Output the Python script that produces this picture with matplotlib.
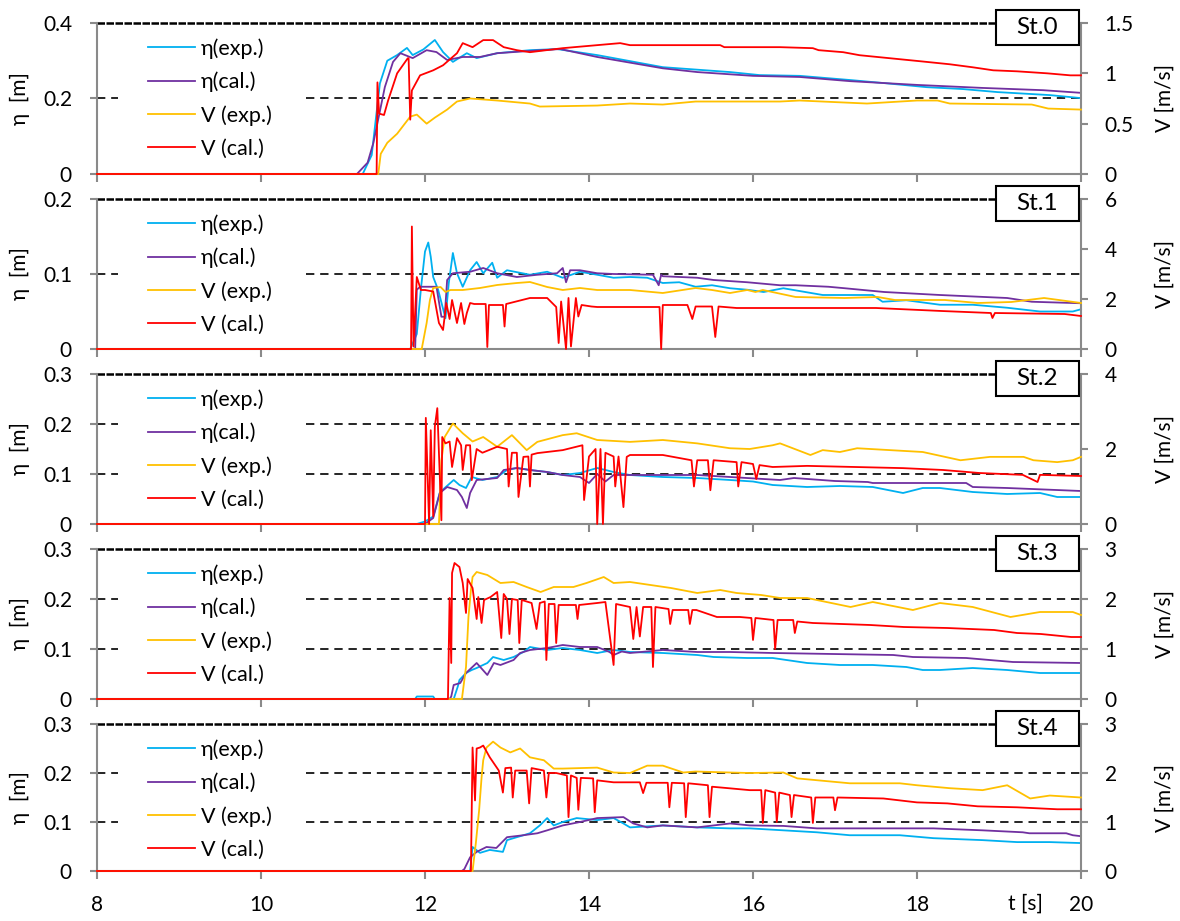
import matplotlib.pyplot as plt
from matplotlib.patches import Rectangle

plt.rcParams['font.family'] = ['Lato', 'DejaVu Sans']

# ---- data: (t [s], value) ----
st0_eta_exp = [(8, 0), (11.24, 0), (11.35, 0.05), (11.45, 0.24), (11.54, 0.30), (11.66, 0.315), (11.78, 0.334),
               (11.85, 0.315), (11.98, 0.33), (12.12, 0.355), (12.22, 0.323), (12.34, 0.297), (12.51, 0.32),
               (12.63, 0.307), (12.88, 0.32), (13.28, 0.328), (13.61, 0.331), (14.1, 0.315), (14.9, 0.283),
               (15.72, 0.27), (16.08, 0.262), (16.57, 0.26), (17.18, 0.249), (17.59, 0.241), (18.12, 0.23),
               (18.56, 0.225), (18.98, 0.217), (19.62, 0.209), (20, 0.201)]
st0_eta_cal = [(8, 0), (11.17, 0), (11.3, 0.03), (11.37, 0.082), (11.51, 0.23), (11.61, 0.297), (11.7, 0.32),
               (11.85, 0.307), (12.02, 0.328), (12.14, 0.323), (12.27, 0.302), (12.46, 0.31), (12.67, 0.31),
               (12.88, 0.32), (13.28, 0.326), (13.65, 0.331), (14.1, 0.31), (14.9, 0.28), (15.32, 0.27),
               (16.0, 0.26), (16.57, 0.257), (17.18, 0.246), (18.0, 0.236), (18.8, 0.228), (19.54, 0.222),
               (20, 0.215)]
st0_v_exp = [(8, 0), (11.43, 0), (11.46, 0.2), (11.54, 0.31), (11.66, 0.4), (11.82, 0.57), (11.9, 0.59),
             (12.02, 0.5), (12.12, 0.56), (12.27, 0.64), (12.39, 0.72), (12.55, 0.75), (12.88, 0.73),
             (13.28, 0.7), (13.4, 0.67), (14.1, 0.68), (14.5, 0.7), (14.9, 0.69), (15.3, 0.72), (16.33, 0.72),
             (16.57, 0.73), (17.39, 0.7), (18.0, 0.73), (18.25, 0.73), (18.4, 0.7), (19.4, 0.69), (19.6, 0.65),
             (20, 0.64)]
st0_v_cal = [(8, 0), (11.41, 0), (11.42, 0.91), (11.44, 0.6), (11.5, 0.586), (11.55, 0.73), (11.66, 1.0),
             (11.79, 1.15), (11.8, 1.15), (11.82, 0.54), (11.84, 0.83), (11.94, 0.98), (12.1, 1.03),
             (12.22, 1.08), (12.39, 1.2), (12.46, 1.3), (12.58, 1.26), (12.71, 1.33), (12.83, 1.33),
             (12.96, 1.26), (13.12, 1.23), (13.28, 1.21), (13.68, 1.25), (14.1, 1.28), (14.38, 1.3),
             (14.5, 1.28), (15.6, 1.28), (15.65, 1.26), (16.33, 1.26), (16.73, 1.25), (16.8, 1.23),
             (17.1, 1.21), (17.3, 1.18), (17.67, 1.15), (18.04, 1.12), (18.4, 1.09), (18.68, 1.06),
             (18.93, 1.03), (19.22, 1.02), (19.59, 1.0), (19.87, 0.98), (20, 0.98)]

st1_eta_exp = [(8, 0), (11.82, 0), (11.9, 0.02), (11.95, 0.08), (12.0, 0.13), (12.04, 0.142), (12.07, 0.123),
               (12.1, 0.096), (12.16, 0.079), (12.25, 0.041), (12.29, 0.088), (12.34, 0.128), (12.39, 0.101),
               (12.46, 0.083), (12.55, 0.105), (12.63, 0.116), (12.71, 0.101), (12.82, 0.115), (12.88, 0.095),
               (13.0, 0.105), (13.28, 0.099), (13.49, 0.103), (13.68, 0.095), (13.89, 0.103), (14.1, 0.099),
               (14.3, 0.095), (14.5, 0.096), (14.71, 0.095), (14.9, 0.088), (15.1, 0.089), (15.3, 0.083),
               (15.5, 0.085), (15.72, 0.081), (15.93, 0.079), (16.13, 0.076), (16.37, 0.081), (16.85, 0.072),
               (17.46, 0.072), (17.58, 0.063), (17.87, 0.065), (18.28, 0.059), (18.68, 0.059), (19.1, 0.055),
               (19.5, 0.05), (19.9, 0.05), (20, 0.053)]
st1_eta_cal = [(8, 0), (11.88, 0), (11.9, 0.079), (11.94, 0.083), (12.0, 0.083), (12.14, 0.083), (12.2, 0.043),
               (12.24, 0.043), (12.27, 0.092), (12.34, 0.101), (12.55, 0.103), (12.71, 0.108), (12.88, 0.101),
               (13.12, 0.096), (13.37, 0.099), (13.61, 0.101), (13.68, 0.108), (13.72, 0.089), (13.77, 0.105),
               (13.89, 0.105), (14.1, 0.101), (14.3, 0.1), (14.78, 0.099), (14.85, 0.085), (14.88, 0.099),
               (14.9, 0.097), (15.32, 0.095), (15.52, 0.092), (15.93, 0.089), (16.33, 0.085), (16.52, 0.085),
               (16.92, 0.083), (17.12, 0.081), (17.6, 0.076), (18.28, 0.072), (19.1, 0.068), (19.4, 0.063),
               (20, 0.061)]
st1_v_exp = [(8, 0), (11.96, 0), (12.02, 1.04), (12.06, 1.96), (12.1, 2.44), (12.19, 2.48), (12.25, 2.28),
             (12.31, 2.36), (12.46, 2.36), (12.67, 2.44), (12.88, 2.56), (13.12, 2.64), (13.28, 2.68),
             (13.49, 2.48), (13.68, 2.36), (13.89, 2.44), (14.1, 2.36), (14.5, 2.36), (14.9, 2.24),
             (15.3, 2.44), (15.5, 2.36), (15.72, 2.24), (15.93, 2.36), (16.03, 2.28), (16.12, 2.36),
             (16.52, 2.08), (17.12, 2.04), (17.52, 2.08), (17.73, 1.96), (18.34, 1.96), (18.74, 1.84),
             (19.15, 1.88), (19.55, 2.04), (20, 1.84)]
st1_v_cal = [(8, 0), (11.83, 0), (11.84, 4.9), (11.86, 0.1), (11.9, 2.88), (11.95, 2.36), (12.0, 2.36),
             (12.1, 2.3), (12.17, 1.04), (12.22, 0.76), (12.26, 1.84), (12.3, 1.2), (12.33, 1.96), (12.39, 1.04),
             (12.44, 1.84), (12.48, 1.0), (12.51, 1.44), (12.55, 1.84), (12.6, 1.8), (12.74, 1.8), (12.76, 0.08),
             (12.78, 1.76), (12.95, 1.76), (12.97, 0.9), (12.99, 1.8), (13.28, 2.04), (13.49, 2.04),
             (13.6, 1.68), (13.63, 0.24), (13.66, 1.9), (13.72, 0.0), (13.75, 2.04), (13.78, 0.1), (13.84, 2.04),
             (13.87, 1.3), (13.91, 1.76), (14.03, 1.7), (14.1, 1.68), (14.86, 1.68), (14.88, 0.0), (14.9, 1.76),
             (15.2, 1.76), (15.26, 1.2), (15.3, 1.7), (15.5, 1.7), (15.54, 0.48), (15.58, 1.7), (15.8, 1.64),
             (17.5, 1.64), (18.3, 1.52), (18.9, 1.44), (18.92, 1.24), (18.95, 1.44), (19.8, 1.4), (20, 1.32)]

st2_eta_exp = [(8, 0), (11.9, 0), (12.0, 0.005), (12.1, 0.015), (12.18, 0.062), (12.24, 0.072), (12.35, 0.088),
               (12.42, 0.078), (12.5, 0.072), (12.57, 0.094), (12.7, 0.088), (12.88, 0.094), (13.0, 0.108),
               (13.12, 0.112), (13.28, 0.108), (13.49, 0.104), (13.68, 0.098), (13.89, 0.102), (14.1, 0.112),
               (14.3, 0.104), (14.5, 0.098), (14.9, 0.094), (15.32, 0.092), (15.72, 0.088), (16.0, 0.085),
               (16.24, 0.078), (16.66, 0.074), (17.06, 0.076), (17.46, 0.074), (17.83, 0.062), (18.07, 0.072),
               (18.28, 0.072), (18.68, 0.064), (19.1, 0.06), (19.5, 0.062), (19.71, 0.054), (20, 0.054)]
st2_eta_cal = [(8, 0), (12.0, 0), (12.1, 0.012), (12.18, 0.062), (12.27, 0.074), (12.39, 0.068), (12.45, 0.054),
               (12.51, 0.032), (12.55, 0.062), (12.63, 0.088), (12.88, 0.092), (12.96, 0.108), (13.12, 0.112),
               (13.28, 0.108), (13.49, 0.104), (13.68, 0.098), (13.89, 0.094), (14.0, 0.082), (14.1, 0.1),
               (14.2, 0.085), (14.3, 0.098), (14.9, 0.098), (15.32, 0.098), (15.72, 0.094), (16.33, 0.088),
               (16.5, 0.092), (17.0, 0.086), (17.4, 0.084), (17.46, 0.082), (18.6, 0.082), (18.68, 0.074),
               (19.1, 0.072), (20, 0.066)]
st2_v_exp = [(8, 0), (12.17, 0), (12.2, 1.7), (12.24, 2.32), (12.34, 2.68), (12.46, 2.42), (12.58, 2.2),
             (12.71, 2.32), (12.88, 2.06), (13.06, 2.37), (13.24, 1.97), (13.37, 2.19), (13.68, 2.37),
             (13.85, 2.42), (14.1, 2.24), (14.5, 2.19), (14.9, 2.24), (15.32, 2.15), (15.72, 2.02), (15.96, 2.0),
             (16.24, 2.1), (16.33, 2.15), (16.7, 1.84), (16.85, 1.97), (17.06, 1.92), (17.27, 2.02),
             (17.67, 1.97), (18.07, 1.92), (18.53, 1.7), (18.89, 1.79), (19.3, 1.79), (19.42, 1.7),
             (19.71, 1.65), (19.9, 1.7), (20, 1.79)]
st2_v_cal = [(8, 0), (12.0, 0), (12.01, 2.83), (12.05, 0), (12.07, 2.5), (12.1, 0.2), (12.12, 2.6), (12.15, 3.09),
             (12.2, 0.1), (12.21, 2.32), (12.25, 2.15), (12.3, 2.2), (12.33, 1.52), (12.39, 2.29), (12.44, 2.1),
             (12.46, 1.44), (12.5, 2.1), (12.55, 2.1), (12.57, 1.17), (12.63, 2.0), (12.7, 1.9), (12.88, 2.06),
             (13.0, 2.0), (13.02, 1.0), (13.06, 1.9), (13.12, 1.9), (13.14, 0.72), (13.2, 1.79), (13.26, 1.8),
             (13.28, 1.0), (13.3, 1.85), (13.37, 1.89), (13.68, 1.97), (13.92, 2.1), (13.94, 0.64), (14.0, 1.8),
             (14.08, 2.0), (14.1, 0.0), (14.14, 2.0), (14.17, 0.0), (14.2, 1.9), (14.3, 1.8), (14.32, 1.0),
             (14.36, 1.8), (14.42, 0.45), (14.46, 1.79), (14.5, 1.84), (14.9, 1.84), (15.25, 1.7), (15.28, 1.0),
             (15.32, 1.7), (15.45, 1.7), (15.48, 0.9), (15.52, 1.7), (15.8, 1.65), (15.82, 1.0), (15.86, 1.65),
             (16.0, 1.6), (16.04, 1.2), (16.08, 1.57), (16.24, 1.52), (16.66, 1.55), (17.83, 1.49),
             (18.32, 1.44), (18.76, 1.36), (19.29, 1.31), (19.47, 1.12), (19.5, 1.31), (20, 1.28)]

st3_eta_exp = [(8, 0), (11.88, 0), (11.9, 0.005), (12.1, 0.005), (12.12, 0), (12.35, 0), (12.4, 0.025),
               (12.42, 0.038), (12.5, 0.052), (12.57, 0.058), (12.63, 0.062), (12.76, 0.072), (12.83, 0.084),
               (12.96, 0.078), (13.08, 0.084), (13.2, 0.094), (13.28, 0.104), (13.49, 0.098), (13.68, 0.102),
               (13.89, 0.098), (14.1, 0.092), (14.3, 0.098), (14.5, 0.094), (14.9, 0.092), (15.32, 0.088),
               (15.52, 0.084), (15.93, 0.082), (16.24, 0.082), (16.66, 0.072), (17.06, 0.068), (17.46, 0.068),
               (17.87, 0.064), (18.07, 0.058), (18.28, 0.058), (18.68, 0.062), (19.1, 0.058), (19.5, 0.052),
               (20, 0.052)]
st3_eta_cal = [(8, 0), (12.3, 0), (12.32, 0.005), (12.35, 0.028), (12.43, 0.032), (12.5, 0.052), (12.63, 0.072),
               (12.76, 0.048), (12.84, 0.072), (12.92, 0.068), (13.08, 0.078), (13.16, 0.092), (13.28, 0.098),
               (13.49, 0.102), (13.68, 0.108), (13.89, 0.104), (14.1, 0.104), (14.25, 0.094), (14.3, 0.088),
               (14.4, 0.095), (14.5, 0.092), (14.9, 0.098), (15.32, 0.094), (15.72, 0.094), (16.24, 0.092),
               (17.71, 0.088), (17.95, 0.084), (18.6, 0.082), (19.17, 0.074), (20, 0.072)]
st3_v_exp = [(8, 0), (12.45, 0), (12.5, 0.64), (12.53, 1.64), (12.56, 2.18), (12.58, 2.44), (12.63, 2.54),
             (12.76, 2.48), (12.92, 2.32), (13.08, 2.34), (13.24, 2.24), (13.41, 2.14), (13.57, 2.24),
             (13.81, 2.24), (13.97, 2.32), (14.18, 2.44), (14.3, 2.32), (14.5, 2.34), (14.75, 2.28),
             (15.0, 2.22), (15.32, 2.12), (15.6, 2.18), (15.8, 2.12), (16.1, 2.08), (16.33, 2.02),
             (16.66, 2.02), (17.19, 1.84), (17.46, 1.94), (17.95, 1.78), (18.28, 1.92), (18.68, 1.84),
             (19.14, 1.64), (19.5, 1.74), (19.9, 1.74), (20, 1.68)]
st3_v_cal = [(8, 0), (12.28, 0), (12.3, 2.02), (12.32, 0.72), (12.33, 2.52), (12.36, 2.72), (12.42, 2.64),
             (12.46, 2.32), (12.5, 1.72), (12.52, 2.4), (12.58, 2.22), (12.63, 1.6), (12.65, 2.04), (12.69, 1.52),
             (12.72, 1.98), (12.8, 2.04), (12.88, 2.14), (12.93, 1.22), (12.96, 2.1), (13.0, 2.0), (13.03, 1.3),
             (13.06, 2.0), (13.13, 1.98), (13.15, 1.12), (13.18, 1.98), (13.3, 1.92), (13.36, 1.4), (13.4, 1.92),
             (13.46, 1.95), (13.48, 0.78), (13.51, 1.9), (13.58, 1.9), (13.6, 1.12), (13.63, 1.88), (13.84, 1.88),
             (13.86, 1.6), (13.88, 1.88), (14.1, 1.92), (14.2, 1.94), (14.3, 0.68), (14.33, 1.9), (14.5, 1.84),
             (14.54, 1.2), (14.58, 1.84), (14.62, 1.25), (14.66, 1.84), (14.76, 1.84), (14.78, 0.64),
             (14.81, 1.84), (14.97, 1.8), (14.99, 1.5), (15.02, 1.78), (15.21, 1.78), (15.23, 1.5), (15.26, 1.78),
             (15.31, 1.78), (15.56, 1.64), (15.84, 1.64), (15.98, 1.62), (16.0, 1.18), (16.03, 1.62),
             (16.25, 1.58), (16.27, 1.0), (16.3, 1.58), (16.49, 1.58), (16.51, 1.32), (16.54, 1.55),
             (16.73, 1.52), (17.43, 1.48), (17.84, 1.44), (18.37, 1.42), (18.94, 1.38), (19.22, 1.32),
             (19.51, 1.3), (19.88, 1.24), (20, 1.24)]

st4_eta_exp = [(8, 0), (12.55, 0), (12.58, 0.049), (12.67, 0.037), (12.79, 0.043), (12.95, 0.039), (13.0, 0.063),
               (13.12, 0.069), (13.28, 0.077), (13.4, 0.093), (13.49, 0.108), (13.57, 0.093), (13.68, 0.1),
               (13.85, 0.108), (14.1, 0.104), (14.3, 0.108), (14.42, 0.097), (14.5, 0.089), (14.9, 0.093),
               (15.32, 0.089), (15.72, 0.087), (15.96, 0.087), (16.37, 0.083), (16.78, 0.079), (17.18, 0.073),
               (17.79, 0.073), (18.2, 0.067), (18.8, 0.063), (19.22, 0.059), (19.62, 0.059), (20, 0.057)]
st4_eta_cal = [(8, 0), (12.45, 0), (12.48, 0.004), (12.55, 0.028), (12.63, 0.039), (12.75, 0.049), (12.87, 0.047),
               (13.0, 0.069), (13.2, 0.073), (13.37, 0.077), (13.49, 0.083), (13.68, 0.093), (13.89, 0.1),
               (14.1, 0.108), (14.42, 0.11), (14.54, 0.097), (14.71, 0.089), (14.9, 0.093), (15.32, 0.089),
               (15.72, 0.097), (15.96, 0.093), (16.37, 0.092), (16.78, 0.087), (18.2, 0.087), (18.8, 0.083),
               (19.29, 0.079), (19.37, 0.077), (19.82, 0.077), (19.9, 0.073), (20, 0.071)]
st4_v_exp = [(8, 0), (12.58, 0), (12.62, 0.57), (12.66, 1.24), (12.69, 1.91), (12.71, 2.26), (12.75, 2.52),
             (12.83, 2.64), (12.92, 2.52), (13.04, 2.42), (13.16, 2.5), (13.28, 2.32), (13.45, 2.26),
             (13.57, 2.09), (13.68, 2.09), (14.1, 2.11), (14.3, 2.01), (14.5, 2.0), (14.71, 2.15), (14.9, 2.15),
             (15.15, 2.01), (15.3, 2.03), (15.72, 2.01), (15.96, 2.0), (16.37, 2.01), (16.54, 1.89),
             (17.18, 1.79), (17.79, 1.79), (18.0, 1.75), (18.4, 1.69), (18.8, 1.65), (19.1, 1.75),
             (19.38, 1.48), (19.62, 1.54), (20, 1.5)]
st4_v_cal = [(8, 0), (12.56, 0), (12.58, 2.52), (12.61, 1.44), (12.63, 2.5), (12.67, 2.52), (12.71, 2.56),
             (12.79, 2.32), (12.9, 2.05), (12.95, 1.6), (12.98, 2.1), (13.05, 2.11), (13.07, 1.5), (13.1, 2.05),
             (13.24, 2.05), (13.27, 1.38), (13.3, 2.1), (13.45, 2.05), (13.48, 1.5), (13.51, 2.0), (13.6, 2.0),
             (13.73, 1.95), (13.75, 1.1), (13.78, 1.95), (13.85, 1.9), (13.87, 1.25), (13.9, 1.9), (14.05, 1.89),
             (14.07, 1.2), (14.1, 1.85), (14.3, 1.81), (14.62, 1.81), (14.66, 1.59), (14.7, 1.8), (14.96, 1.8),
             (14.98, 1.3), (15.01, 1.8), (15.16, 1.79), (15.18, 1.1), (15.21, 1.79), (15.45, 1.75),
             (15.47, 1.1), (15.5, 1.72), (15.7, 1.69), (15.96, 1.65), (16.1, 1.65), (16.12, 0.98),
             (16.15, 1.65), (16.27, 1.6), (16.29, 1.0), (16.32, 1.6), (16.45, 1.55), (16.47, 1.1), (16.5, 1.55),
             (16.71, 1.5), (16.73, 0.98), (16.76, 1.5), (16.98, 1.5), (17.0, 1.24), (17.03, 1.5), (17.59, 1.48),
             (18.0, 1.4), (18.37, 1.38), (18.74, 1.32), (19.22, 1.3), (19.71, 1.26), (20, 1.26)]

stations = ['St.0', 'St.1', 'St.2', 'St.3', 'St.4']
eta_ticks = [[0, 0.2, 0.4], [0, 0.1, 0.2], [0, 0.1, 0.2, 0.3], [0, 0.1, 0.2, 0.3], [0, 0.1, 0.2, 0.3]]
v_ticks = [[0, 0.5, 1, 1.5], [0, 2, 4, 6], [0, 2, 4], [0, 1, 2, 3], [0, 1, 2, 3]]
x_ticks = [8, 10, 12, 14, 16, 18, 20]
labels = ['η(exp.)', 'η(cal.)', 'V (exp.)', 'V (cal.)']

series = [
    (st0_eta_exp, st0_eta_cal, st0_v_exp, st0_v_cal),
    (st1_eta_exp, st1_eta_cal, st1_v_exp, st1_v_cal),
    (st2_eta_exp, st2_eta_cal, st2_v_exp, st2_v_cal),
    (st3_eta_exp, st3_eta_cal, st3_v_exp, st3_v_cal),
    (st4_eta_exp, st4_eta_cal, st4_v_exp, st4_v_cal),
]

colors = ['#00B0F0', '#7030A0', '#FFC000', '#FF0000']
GRAY = '#8a8a8a'
W, H = 1180, 921
tops = [23, 199, 374, 549, 724]
bots = [174, 349, 524, 699, 871]
left, right = 97, 1081
FS = 15
LFS = 15.5

fig = plt.figure(figsize=(W / 100, H / 100), dpi=100)

for i in range(5):
    ph = bots[i] - tops[i]
    ax = fig.add_axes([left / W, 1 - bots[i] / H, (right - left) / W, ph / H])
    ax2 = ax.twinx()
    emax = eta_ticks[i][-1]
    vmax = v_ticks[i][-1]

    handles = []
    for k, data in enumerate(series[i]):
        t = [p[0] for p in data]
        v = [p[1] for p in data]
        target = ax if k < 2 else ax2
        ln, = target.plot(t, v, color=colors[k], lw=1.3, clip_on=False, zorder=3)
        handles.append(ln)

    ax.set_xlim(8, 20)
    ax.set_ylim(0, emax)
    ax2.set_ylim(0, vmax)
    ax.set_yticks(eta_ticks[i])
    ax.set_yticklabels(['%g' % v for v in eta_ticks[i]])
    ax2.set_yticks(v_ticks[i])
    ax2.set_yticklabels(['%g' % v for v in v_ticks[i]])
    ax.set_xticks(x_ticks)
    if i == 4:
        ax.set_xticklabels([str(x) for x in x_ticks])
    else:
        ax.set_xticklabels([])

    # dashed gridlines, broken where the legend sits
    for g in eta_ticks[i][1:-1]:
        ax.plot([8, 8.26], [g, g], color='black', lw=1.2, dashes=(5, 3.5), zorder=1)
        ax.plot([10.55, 20], [g, g], color='black', lw=1.2, dashes=(5, 3.5), zorder=1)
    ax.axhline(emax, color='black', lw=1.8, dashes=(3, 0.6), zorder=1, clip_on=False)

    for a in (ax, ax2):
        for s in ('top', 'left', 'right', 'bottom'):
            a.spines[s].set_visible(False)
    for a, s in ((ax, 'left'), (ax, 'bottom'), (ax2, 'right')):
        a.spines[s].set_visible(True)
        a.spines[s].set_color(GRAY)
        a.spines[s].set_linewidth(1.5)

    ax.tick_params(axis='y', direction='out', length=5, width=1.5, color=GRAY, labelsize=FS, pad=13)
    ax.tick_params(axis='x', direction='out', length=5.5, width=1.5, color=GRAY, labelsize=FS, pad=12)
    ax2.tick_params(axis='y', direction='out', length=5, width=1.5, color=GRAY, labelsize=FS, pad=12)

    ax.set_ylabel('η  [m]', fontsize=FS)
    ax.yaxis.set_label_coords((30 - left) / (right - left), 0.5)
    ax2.set_ylabel('V [m/s]', fontsize=FS)
    ax2.yaxis.set_label_coords((1155 - left) / (right - left), 0.5)

    ax2.legend(handles, labels, loc='upper left', frameon=False, fontsize=LFS,
               bbox_to_anchor=((148 - left) / (right - left), 1 - 15 / ph),
               borderpad=0, borderaxespad=0, handlelength=2.2, handletextpad=0.25,
               labelspacing=0.6)

    # station box
    bx0 = (996 - left) / (right - left)
    bw = 83 / (right - left)
    by0 = 1 - 22 / ph
    bh = 35 / ph
    ax2.add_patch(Rectangle((bx0, by0), bw, bh, transform=ax2.transAxes, facecolor='white',
                            edgecolor='black', lw=1.5, clip_on=False, zorder=10))
    ax2.text(bx0 + bw / 2, by0 + bh / 2, stations[i], transform=ax2.transAxes, ha='center',
             va='center', fontsize=17.5, zorder=11)

fig.text(1025 / W, 1 - 904 / H, 't [s]', ha='center', va='center', fontsize=FS)

fig.savefig('out.png', dpi=100)
